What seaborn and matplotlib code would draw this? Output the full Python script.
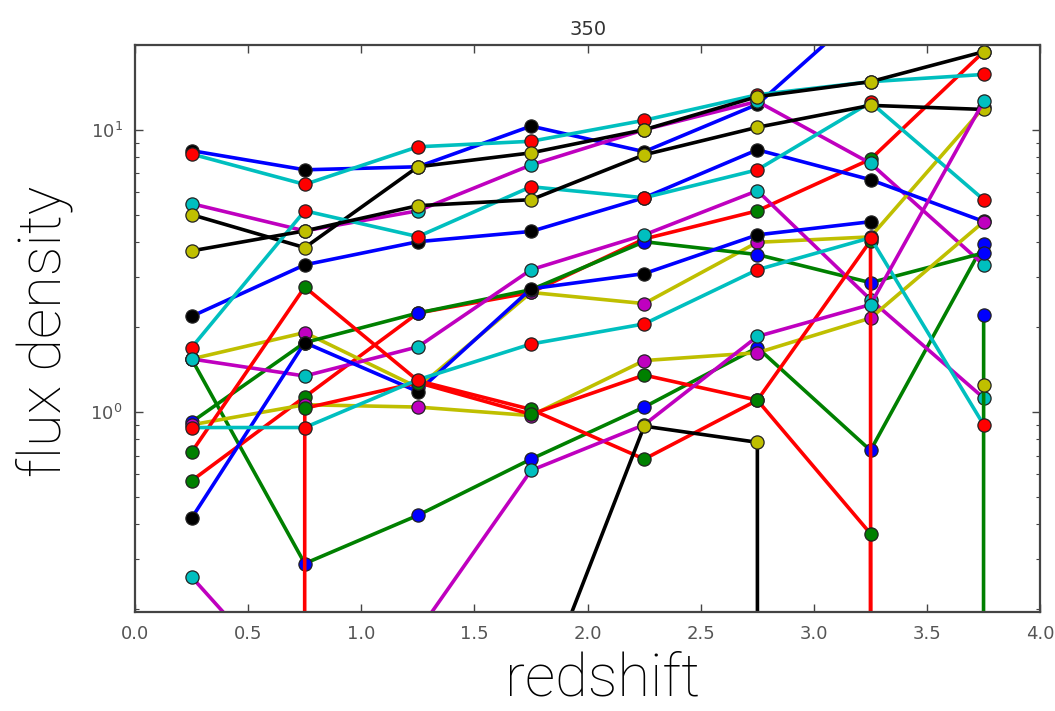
import numpy as np
import pandas as pd
import matplotlib
matplotlib.use("Agg")
import matplotlib.pyplot as plt
import seaborn as sns

# ---------------- data ----------------
redshift = [0.25, 0.75, 1.25, 1.75, 2.25, 2.75, 3.25, 3.75]
nan = np.nan
NEG = -1.0  # non-positive flux (clipped by the log axis)

blue_1 = [8.43, 7.21, 7.39, 10.3, 8.36, 12.3, 28.0, 40.0]
blue_2 = [2.18, 3.32, 4.01, 4.36, 5.74, 8.49, 6.65, 4.73]
blue_3 = [0.42, 1.76, 1.18, 2.73, 3.09, 4.24, 4.72, nan]
green_1 = [1.54, 0.29, 0.43, 0.68, 1.04, 1.69, 0.73, 3.93]
green_2 = [0.92, 1.76, 2.24, 2.71, 4.01, 3.61, 2.87, 3.66]
green_3 = [nan, nan, nan, nan, nan, nan, NEG, 2.21]
red_1 = [0.57, 1.13, 2.24, 2.65, 4.10, 5.16, 7.86, 18.9]
red_2 = [0.72, 2.77, 1.29, 1.02, 0.68, 1.10, 4.04, NEG]
red_3 = [NEG, 1.03, 1.27, 0.98, 1.35, 1.10, 0.37, NEG]
cyan_1 = [8.2, 6.4, 8.7, 9.1, 10.8, 13.3, 14.8, 15.7]
cyan_2 = [1.69, 5.16, 4.18, 6.28, 5.74, 7.21, 12.5, 5.65]
cyan_3 = [0.88, 0.88, 1.30, 1.74, 2.05, 3.19, 4.14, 0.90]
magenta_1 = [5.47, 4.38, 5.16, 7.5, 10.0, 12.6, 7.6, 3.32]
magenta_2 = [1.54, 1.34, 1.70, 3.19, 4.24, 6.08, 2.50, 1.12]
magenta_3 = [0.26, 0.093, 0.166, 0.62, 0.90, 1.85, 2.40, 12.6]
yellow_1 = [1.54, 1.91, 1.22, 2.65, 2.42, 3.99, 4.17, 12.0]
yellow_2 = [0.90, 1.06, 1.04, 0.97, 1.52, 1.62, 2.15, 4.72]
black_1 = [5.0, 3.82, 7.39, 8.28, 10.0, 13.1, 14.8, 18.9]
black_2 = [3.72, 4.38, 5.38, 5.65, 8.15, 10.2, 12.2, 11.8]
black_3 = [nan, nan, nan, 0.083, 0.89, 0.78, NEG, nan]
black_4 = [nan, nan, nan, nan, nan, nan, nan, 1.25]

series = [
    ("blue_1", blue_1, "b"), ("green_1", green_1, "g"), ("red_1", red_1, "r"),
    ("cyan_1", cyan_1, "c"), ("magenta_1", magenta_1, "m"), ("yellow_1", yellow_1, "y"),
    ("black_1", black_1, "k"),
    ("blue_2", blue_2, "b"), ("green_2", green_2, "g"),
    ("cyan_2", cyan_2, "c"), ("magenta_2", magenta_2, "m"), ("yellow_2", yellow_2, "y"),
    ("black_2", black_2, "k"),
    ("blue_3", blue_3, "b"), ("red_2", red_2, "r"), ("green_3", green_3, "g"),
    ("red_3", red_3, "r"),
    ("cyan_3", cyan_3, "c"), ("magenta_3", magenta_3, "m"), ("black_3", black_3, "k"),
    ("black_4", black_4, "k"),
]

# ---------------- styling ----------------
classic = {"b": "#0000ff", "g": "#008000", "r": "#ff0000", "c": "#00bfbf",
           "m": "#bf00bf", "y": "#bfbf00", "k": "#000000"}
marker_of = {"b": "k", "g": "b", "r": "g", "c": "r", "m": "c", "y": "m", "k": "y"}

sns.set_style("ticks")
plt.rcParams["font.family"] = ["DejaVu Sans"]

fig = plt.figure(figsize=(10.55, 7.11), dpi=100)
ax = fig.add_axes([0.128, 0.139, 0.858, 0.798])

rows = []
for name, vals, col in series:
    for x, v in zip(redshift, vals):
        rows.append({"series": name, "redshift": x, "flux": v})
df = pd.DataFrame(rows)

for name, vals, col in series:
    sub = df[df["series"] == name]
    sns.lineplot(data=sub, x="redshift", y="flux", ax=ax, color=classic[col],
                 linewidth=2.6, marker="o", markersize=9.5,
                 markerfacecolor=classic[marker_of[col]],
                 markeredgecolor="#222222", markeredgewidth=0.9,
                 estimator=None, sort=False, legend=False)

ax.set_yscale("log")
ax.set_ylim(0.195, 20.0)
ax.set_xlim(0.0, 4.0)
ax.set_xticks(np.arange(0, 4.01, 0.5))
ax.set_xticklabels([f"{t:.1f}" for t in np.arange(0, 4.01, 0.5)])

ax.tick_params(which="both", direction="in", top=True, right=True,
               colors="#444444", labelcolor="#555555")
ax.tick_params(which="major", length=6, width=1.0, labelsize=13, pad=9)
ax.tick_params(which="minor", length=3, width=0.8)
for s in ax.spines.values():
    s.set_color("#444444")
    s.set_linewidth(1.6)

ax.set_title("350", fontsize=14, color="#333333", pad=7)
ax.set_xlabel("redshift", fontsize=43, family=["Roboto", "DejaVu Sans"],
              fontweight="light", color="#000000")
ax.set_ylabel("flux density", fontsize=43, family=["Roboto", "DejaVu Sans"],
              fontweight="light", color="#000000")
ax.xaxis.set_label_coords(0.516, -0.068)
ax.yaxis.set_label_coords(-0.068, 0.495)

fig.savefig("out.png", dpi=100, facecolor="white")
